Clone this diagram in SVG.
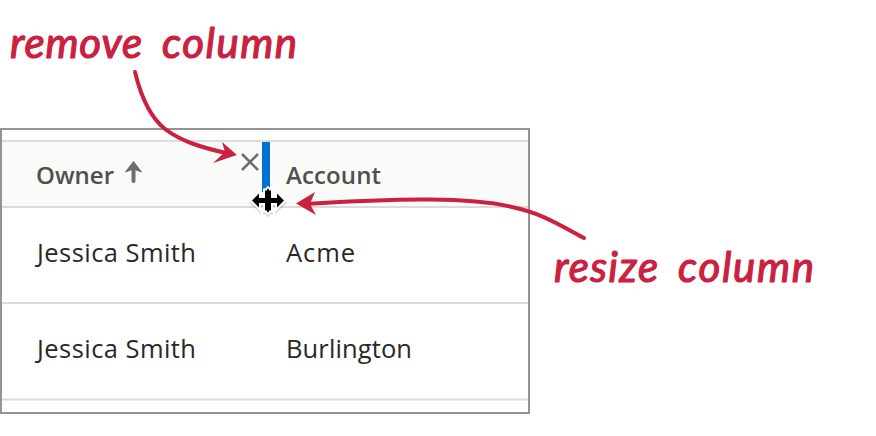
<svg xmlns="http://www.w3.org/2000/svg" width="876" height="436" viewBox="0 0 876 436">
<style>
.hand{font-family:"Lato","Noto Sans",sans-serif;font-style:italic;font-weight:400;font-size:42px;fill:#c9213f;stroke:#c9213f;stroke-width:1.200px;stroke-linejoin:round}
.cell{font-family:"Open Sans","Noto Sans",sans-serif;font-size:25.500px;fill:#2b2826}
.head{font-family:"Open Sans","Noto Sans",sans-serif;font-weight:600;font-size:24px;fill:#514f4d}
.rule{stroke:#dddbda;stroke-width:2;fill:none}
.arrow{stroke:#c9213f;stroke-width:4;fill:none;stroke-linecap:round}
.head-arrow{fill:#c9213f}
</style>
<defs>
<path id="cursor" d="M-3 -10H-1V-11L0 -12L1 -11V-10H3V-2.500H9V-7L16 0L9 7V2.500H3V10H1V11L0 12L-1 11V10H-3V2.500H-9V7L-16 0L-9 -7V-2.500H-3Z"/>
</defs>
<g id="table">
<rect x="1" y="129" width="528" height="284" fill="#fff" stroke="#969492" stroke-width="2"/>
<rect x="2" y="141" width="526" height="66" fill="#fafaf9"/>
<path class="rule" d="M2 141H528M2 207H528M2 303H528M2 399.500H528"/>
</g>
<g id="header-owner">
<text class="head" x="36" y="184" textLength="78" lengthAdjust="spacing">Owner</text>
<path d="M133.500 181V168" stroke="#706e6b" stroke-width="4" stroke-linecap="round" fill="none"/>
<path d="M125.500 172L133.500 161.500L141.500 172L133.500 169Z" fill="#706e6b" stroke="#706e6b" stroke-width="1" stroke-linejoin="round"/>
</g>
<g id="header-account"><text class="head" x="286" y="184" textLength="95" lengthAdjust="spacing">Account</text></g>
<g id="cell-owner-1"><text class="cell" x="37" y="262" textLength="159" lengthAdjust="spacing">Jessica Smith</text></g>
<g id="cell-account-1"><text class="cell" x="286" y="262" textLength="69" lengthAdjust="spacing">Acme</text></g>
<g id="cell-owner-2"><text class="cell" x="37" y="358" textLength="159" lengthAdjust="spacing">Jessica Smith</text></g>
<g id="cell-account-2"><text class="cell" x="286" y="358" textLength="126" lengthAdjust="spacing">Burlington</text></g>
<g id="remove-icon"><path d="M242 154L258 170M258 154L242 170" stroke="#706e6b" stroke-width="2.600" fill="none"/></g>
<g id="resize-handle">
<rect x="262" y="142" width="8" height="50" fill="#0070d2"/>
<g transform="translate(268 200.500)">
<use href="#cursor" transform="translate(0 2)" fill="#000" stroke="#000" stroke-width="4" opacity=".15"/>
<use href="#cursor" fill="#fff" stroke="#fff" stroke-width="4" stroke-linejoin="miter"/>
<use href="#cursor" fill="#000"/>
</g>
</g>
<g id="connectors">
<path class="arrow" d="M135 72C141 97 150 117 165 129C182 142 204 148 226 153"/>
<path class="head-arrow" d="M237 155L213 163L225 152L222 142Z"/>
<path class="arrow" d="M584 238C558 224 541 213 512 207C472 197 400 198 305 204"/>
<path class="head-arrow" d="M296 203.500L315 192L310 204L316 215Z"/>
</g>
<g id="label-remove"><text class="hand" y="58"><tspan x="10" textLength="132" lengthAdjust="spacing">remove</tspan><tspan x="162" textLength="135" lengthAdjust="spacing">column</tspan></text></g>
<g id="label-resize"><text class="hand" y="282"><tspan x="554" textLength="104" lengthAdjust="spacing">resize</tspan><tspan x="678" textLength="136" lengthAdjust="spacing">column</tspan></text></g>
</svg>
